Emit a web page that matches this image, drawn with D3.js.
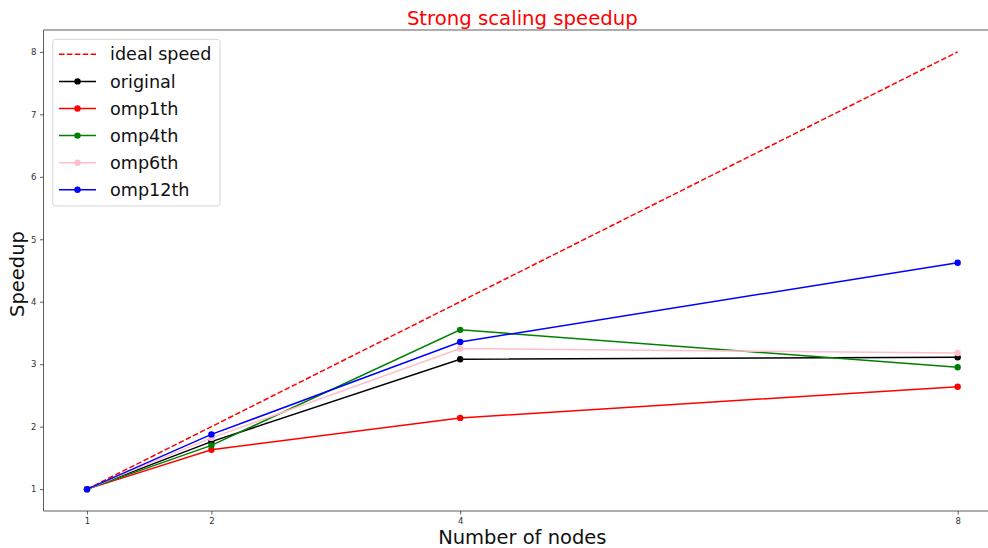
<!DOCTYPE html>
<html>
<head>
<meta charset="utf-8">
<script src="https://cdn.jsdelivr.net/npm/d3@7"></script>
<style>
  html, body { margin: 0; padding: 0; background: #fff; }
  svg { display: block; font-family: "DejaVu Sans", sans-serif; }
</style>
</head>
<body>
<svg id="chart" width="988" height="548"></svg>
<script>
// Node counts and measured speedups
const nodes = [1, 2, 4, 8];
const idealSpeed = [1, 2, 4, 8];
const original = [1, 1.76, 3.08, 3.11];
const omp1th = [1, 1.63, 2.14, 2.64];
const omp4th = [1, 1.70, 3.55, 2.95];
const omp6th = [1, 1.82, 3.25, 3.18];
const omp12th = [1, 1.876, 3.355, 4.625];
const yTicks = [1, 2, 3, 4, 5, 6, 7, 8];

const series = [
  { name: "ideal speed", values: idealSpeed, color: "red", dashed: true, marker: false },
  { name: "original", values: original, color: "black", dashed: false, marker: true },
  { name: "omp1th", values: omp1th, color: "red", dashed: false, marker: true },
  { name: "omp4th", values: omp4th, color: "green", dashed: false, marker: true },
  { name: "omp6th", values: omp6th, color: "pink", dashed: false, marker: true },
  { name: "omp12th", values: omp12th, color: "blue", dashed: false, marker: true }
];

const svg = d3.select("#chart");
const plotLeft = 43.5, plotRight = 1001.2, plotTop = 30, plotBottom = 511;

const x = d3.scaleLinear().domain([0.65, 8.35]).range([plotLeft, plotRight]);
const y = d3.scaleLinear().domain([0.65, 8.35]).range([plotBottom, plotTop]);

// Title
svg.append("text")
  .attr("x", (plotLeft + plotRight) / 2).attr("y", 25)
  .attr("text-anchor", "middle")
  .attr("font-size", 19.7).attr("fill", "red")
  .text("Strong scaling speedup");

// Axes
const xAxis = d3.axisBottom(x).tickValues(nodes).tickFormat(d3.format("d")).tickSize(3.5).tickPadding(3.5);
const yAxis = d3.axisLeft(y).tickValues(yTicks).tickFormat(d3.format("d")).tickSize(3.5).tickPadding(3.5);

const gx = svg.append("g").attr("transform", `translate(0,${plotBottom})`).call(xAxis);
const gy = svg.append("g").attr("transform", `translate(${plotLeft},0)`).call(yAxis);
[gx, gy].forEach(g => {
  g.select(".domain").remove();
  g.selectAll(".tick line").attr("stroke", "#333").attr("stroke-width", 0.8);
  g.selectAll(".tick text").attr("font-size", 8.5).attr("fill", "#333")
    .attr("font-family", "DejaVu Sans, sans-serif");
});

// Spines
svg.append("line").attr("x1", plotLeft).attr("x2", plotLeft).attr("y1", plotTop).attr("y2", plotBottom)
  .attr("stroke", "#333").attr("stroke-width", 0.8);
svg.append("line").attr("x1", plotLeft).attr("x2", plotRight).attr("y1", plotBottom).attr("y2", plotBottom)
  .attr("stroke", "#333").attr("stroke-width", 0.8);
svg.append("line").attr("x1", plotLeft).attr("x2", plotRight).attr("y1", plotTop).attr("y2", plotTop)
  .attr("stroke", "#333").attr("stroke-width", 0.8);

// Axis labels
svg.append("text")
  .attr("x", (plotLeft + plotRight) / 2).attr("y", 543.5)
  .attr("text-anchor", "middle").attr("font-size", 19.5).attr("fill", "#111")
  .text("Number of nodes");
svg.append("text")
  .attr("transform", `translate(24,274) rotate(-90)`)
  .attr("text-anchor", "middle").attr("font-size", 19.5).attr("fill", "#111")
  .text("Speedup");

// Lines and markers
const line = d3.line().x((d, i) => x(nodes[i])).y(d => y(d));
series.forEach(s => {
  const g = svg.append("g");
  g.append("path")
    .attr("d", line(s.values))
    .attr("fill", "none")
    .attr("stroke", s.color)
    .attr("stroke-width", 1.5)
    .attr("stroke-dasharray", s.dashed ? "5.5,2.4" : null);
  if (s.marker) {
    g.selectAll("circle").data(s.values).join("circle")
      .attr("cx", (d, i) => x(nodes[i])).attr("cy", d => y(d))
      .attr("r", 3.2).attr("fill", s.color);
  }
});

// Legend
const lg = svg.append("g");
lg.append("rect")
  .attr("x", 52.7).attr("y", 39.3).attr("width", 167.3).attr("height", 166.7)
  .attr("rx", 3).attr("fill", "white").attr("fill-opacity", 0.8)
  .attr("stroke", "#d6d6d6").attr("stroke-width", 1);
series.forEach((s, i) => {
  const cy = 54.3 + i * 27.1;
  lg.append("line")
    .attr("x1", 59).attr("x2", 96).attr("y1", cy).attr("y2", cy)
    .attr("stroke", s.color).attr("stroke-width", 1.5)
    .attr("stroke-dasharray", s.dashed ? "5.5,2.4" : null);
  if (s.marker) {
    lg.append("circle").attr("cx", 77.5).attr("cy", cy).attr("r", 3.2).attr("fill", s.color);
  }
  lg.append("text")
    .attr("x", 110).attr("y", cy).attr("dy", "0.35em")
    .attr("font-size", 17.6).attr("fill", "#111")
    .text(s.name);
});
</script>
</body>
</html>
